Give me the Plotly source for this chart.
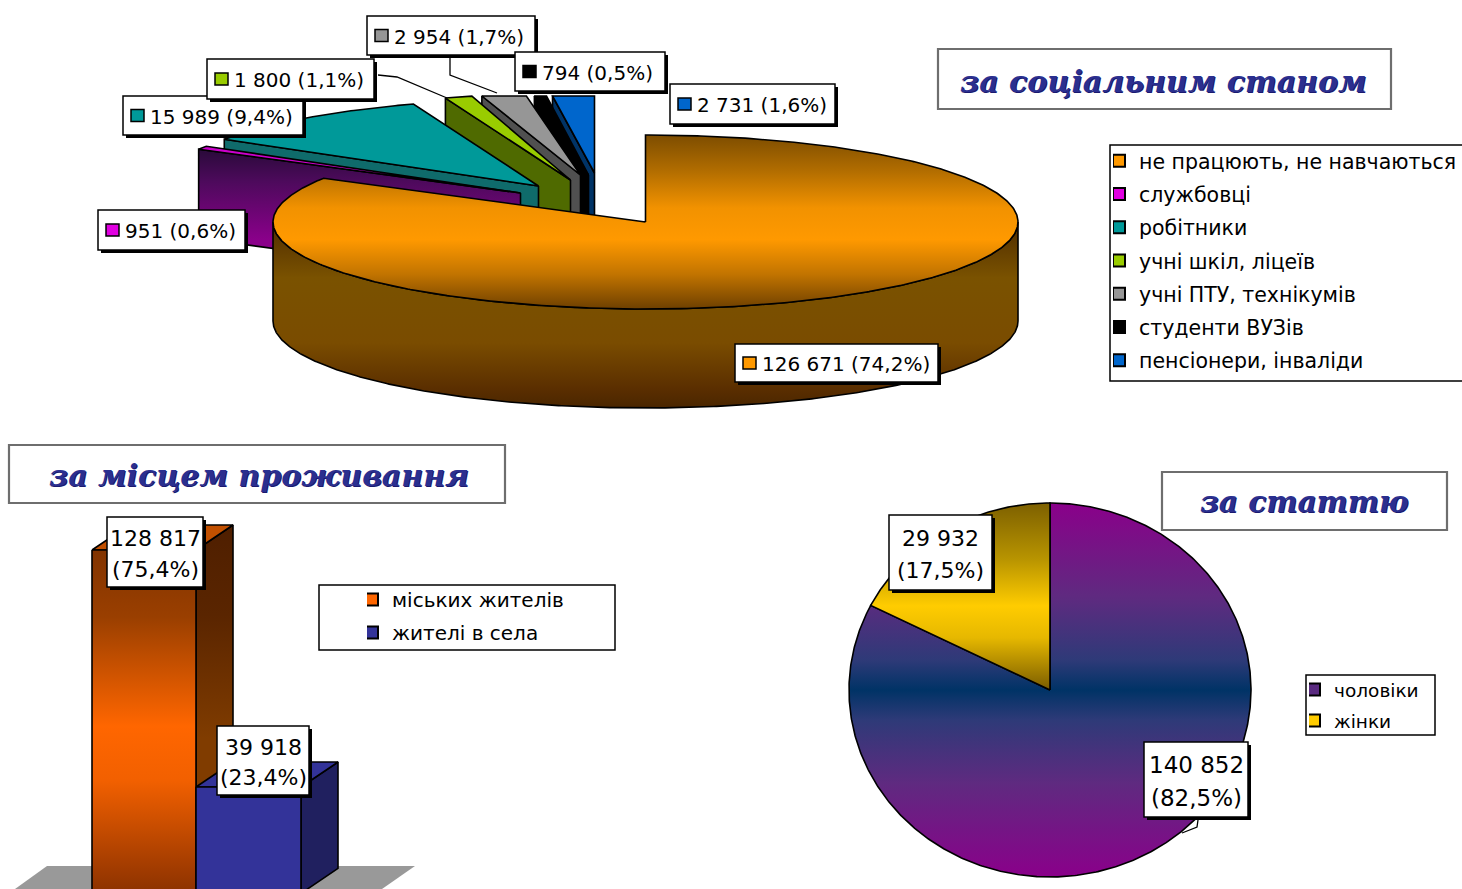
import numpy as np
import plotly.graph_objects as go

# ---------------- data ----------------
social_categories = ["не працюють, не навчаються", "службовці", "робітники", "учні шкіл, ліцеїв",
                     "учні ПТУ, технікумів", "студенти ВУЗів", "пенсіонери, інваліди"]
social_values = [126671, 951, 15989, 1800, 2954, 794, 2731]
social_percent = ["74,2", "0,6", "9,4", "1,1", "1,7", "0,5", "1,6"]

residence_categories = ["міських жителів", "жителі в села"]
residence_values = [128817, 39918]
residence_percent = ["75,4", "23,4"]

gender_categories = ["чоловіки", "жінки"]
gender_values = [140852, 29932]
gender_percent = ["82,5", "17,5"]

titles = ["за соціальним станом", "за місцем проживання", "за статтю"]

# ---------------- styles ----------------
SOCIAL_TOP = ["#ff9900", "#cc00cc", "#009999", "#99cc00", "#969696", "#000000", "#0066cc"]
SOCIAL_CUT = ["#6b4000", "purple", "#0f6b6b", "#4f6a00", "#505050", "#000000", "#003366"]
# slice pull-out, in page pixels
SOCIAL_PULL = [(0, 0), (-125, -29), (-107, -36), (-75, -42), (-65, -47), (-57, -47), (-51, -49)]
CX, CY, RX, RY, DEPTH = 645.5, 222, 372.5, 87, 99
TOP_LIMIT = 96
TITLE_BLUE = "#2b2f8f"
FONT = "DejaVu Sans"
TITLE_FONT = "DejaVu Serif"

fig = go.Figure()


def poly(x, y, color=None, grad=None, lw=1.6, line="#000000"):
    kw = dict(x=x, y=y, mode="lines", fill="toself", line=dict(color=line, width=lw),
              hoverinfo="skip", showlegend=False)
    if grad is not None:
        kw["fillgradient"] = dict(type="vertical", start=grad[0], stop=grad[1], colorscale=grad[2])
    else:
        kw["fillcolor"] = color
    fig.add_trace(go.Scatter(**kw))


def arc(a0, a1, cx, cy, rx, ry):
    t = np.radians(np.linspace(a0, a1, max(int(abs(a1 - a0) * 2), 2) + 1))
    return cx + rx * np.sin(t), cy - ry * np.cos(t)


# ---------- top exploded 3-D pie ----------
total = sum(social_values)
edges = np.concatenate([[0], np.cumsum(social_values)]) / total * 360
for i in range(len(social_values) - 1, 0, -1):
    a0, a1 = edges[i], edges[i + 1]
    ox, oy = SOCIAL_PULL[i]
    ax, ay = CX + ox, CY + oy
    x, y = arc(a0, a1, ax, ay, RX, RY)
    y = np.maximum(y, TOP_LIMIT)
    # cut face at the near edge of the slice
    cutx = [ax, x[0], x[0], ax, ax]
    cuty = [ay, y[0], y[0] + DEPTH * 0.9, ay + DEPTH * 0.9, ay]
    if i == 1:
        poly(cutx, cuty, grad=(150, 240, [[0, "#2a0a3a"], [0.35, "#4d0a5c"], [1, "#8a008a"]]))
    else:
        poly(cutx, cuty, color=SOCIAL_CUT[i])
    poly(np.r_[ax, x, ax], np.r_[ay, y, ay], color=SOCIAL_TOP[i])

# main slice: side wall then top
wx, wy = arc(90, 270, CX, CY, RX, RY)
poly(np.r_[wx, wx[::-1], wx[0]], np.r_[wy, wy[::-1] + DEPTH, wy[0]],
     grad=(222, 408, [[0, "#4f2c00"], [0.3, "#7a5200"], [0.65, "#7a4c00"], [0.9, "#5a2e00"], [1, "#4a2600"]]))
x, y = arc(edges[0], edges[1], CX, CY, RX, RY)
poly(np.r_[CX, x, CX], np.r_[CY, y, CY],
     grad=(135, 309, [[0, "#7d4d00"], [0.2, "#b06c00"], [0.42, "#f29200"], [0.6, "#ff9900"],
                      [0.8, "#c27400"], [1, "#6e4000"]]))

# ---------- bars ----------
BAR_PX = 237 / (residence_values[0] - residence_values[1])
BAR_BASE = 787 + residence_values[1] * BAR_PX
BAR_X = [(92, 196), (196, 301)]
BAR_DX, BAR_DY = 37, 25
BAR_FRONT = [(527, 889, [[0, "#7a3000"], [0.25, "#9a3f00"], [0.55, "#ff6600"], [0.7, "#f26000"], [1, "#8f3300"]]), None]
BAR_SIDE = [(527, 880, [[0, "#4f1f00"], [0.25, "#5a2500"], [0.6, "#803c00"], [1, "#803c00"]]), None]
BAR_CAP = ["#c25000", "#333399"]

shapes = []
shapes.append(dict(type="path", path="M 15 889 L 47 866 L 415 866 L 382 889 Z", fillcolor="#999999",
                   line=dict(width=0), layer="below", xref="x", yref="y"))
for i, v in enumerate(residence_values):
    x0, x1 = BAR_X[i]
    top = BAR_BASE - v * BAR_PX
    if BAR_SIDE[i]:
        poly([x1, x1 + BAR_DX, x1 + BAR_DX, x1, x1],
             [top, top - BAR_DY, BAR_BASE - BAR_DY, BAR_BASE, top], grad=BAR_SIDE[i])
    else:
        poly([x1, x1 + BAR_DX, x1 + BAR_DX, x1, x1],
             [top, top - BAR_DY, BAR_BASE - BAR_DY, BAR_BASE, top], color="#20205f")
    poly([x0, x0 + BAR_DX, x1 + BAR_DX, x1, x0], [top, top - BAR_DY, top - BAR_DY, top, top], color=BAR_CAP[i])
    if BAR_FRONT[i]:
        poly([x0, x1, x1, x0, x0], [top, top, BAR_BASE, BAR_BASE, top], grad=BAR_FRONT[i])
    else:
        poly([x0, x1, x1, x0, x0], [top, top, BAR_BASE, BAR_BASE, top], color="#333399")

# ---------- gender pie ----------
PX, PY, PRX, PRY = 1050, 690, 201, 187
gtotal = sum(gender_values)
gedges = np.concatenate([[0], np.cumsum(gender_values)]) / gtotal * 360
x, y = arc(gedges[0], gedges[1], PX, PY, PRX, PRY)
poly(np.r_[PX, x, PX], np.r_[PY, y, PY],
     grad=(503, 877, [[0, "#8a008a"], [0.25, "#5f2a80"], [0.42, "#2e3a78"], [0.5, "#003366"],
                      [0.58, "#2e3a78"], [0.75, "#5f2a80"], [1, "#8a008a"]]))
x, y = arc(gedges[1], gedges[2], PX, PY, PRX, PRY)
poly(np.r_[PX, x, PX], np.r_[PY, y, PY],
     grad=(503, 690, [[0, "#7d6000"], [0.3, "#b89400"], [0.55, "#ffcc00"], [0.72, "#e6b800"], [1, "#7a5c00"]]))

# ---------- legends (native) ----------
def legend_entries(cats, colors, legend):
    for c, col in zip(cats, colors):
        fig.add_trace(go.Scatter(x=[None], y=[None], mode="markers", name=c, legend=legend, legendgroup=legend + c,
                                 marker=dict(symbol="square", size=12, color=col, line=dict(color="#000000", width=2))))


legend_entries(social_categories, ["#ff9900", "#e000e0", "#009999", "#99cc00", "#969696", "#000000", "#0066cc"], "legend")
legend_entries(residence_categories, ["#ff6600", "#333399"], "legend2")
legend_entries(gender_categories, ["#5a2a80", "#ffcc00"], "legend3")

W, H = 1462, 889


def legend_layout(left, top, size, gap, entry, indent):
    return dict(x=left / W, y=1 - top / H, xanchor="left", yanchor="top", bgcolor="rgba(0,0,0,0)", borderwidth=0,
                font=dict(family=FONT, size=size, color="#000000"), tracegroupgap=gap, indentation=indent,
                entrywidth=entry, entrywidthmode="pixels", itemclick=False, itemdoubleclick=False)


def rect(x0, y0, x1, y1, fill="#ffffff", line="#000000", lw=1.5):
    shapes.append(dict(type="rect", xref="x", yref="y", x0=x0, y0=y0, x1=x1, y1=y1, fillcolor=fill,
                       line=dict(color=line, width=lw), layer="above"))


annotations = []


def text(x, y, s, size=20, family=FONT, color="#000000", anchor="left", **font):
    annotations.append(dict(x=x, y=y, xref="x", yref="y", text=s, showarrow=False, xanchor=anchor, yanchor="middle",
                            font=dict(family=family, size=size, color=color, **font)))


def leader(points):
    path = "M " + " L ".join(f"{a} {b}" for a, b in points)
    shapes.append(dict(type="path", path=path, xref="x", yref="y", line=dict(color="#000000", width=1.3), layer="above"))


def num(v):
    return f"{v:,}".replace(",", " ")


# title frames
TITLE_BOXES = [(938, 49, 1391, 109, 1163, 81, 30), (9, 445, 505, 503, 259, 475, 30), (1162, 472, 1447, 530, 1304, 501, 29.5)]
for s, (x0, y0, x1, y1, tx, ty, sz) in zip(titles, TITLE_BOXES):
    rect(x0, y0, x1, y1, line="#6e6e6e", lw=2.2)
    text(tx, ty, f"<b><i>{s}</i></b>", size=sz, family=TITLE_FONT, color=TITLE_BLUE, anchor="center",
         shadow="1px 1px 0px #1a1a70")

# legend frames
rect(1110, 145, 1470, 381)
rect(319, 585, 615, 650)
rect(1306, 675, 1435, 735)

# leaders
leader([(378, 75), (397, 77), (447, 98)])
leader([(450, 58), (450, 75), (497, 93)])
leader([(1198, 820), (1197, 827), (1182, 833)])


def social_label(i, x0, y0, x1, y1):
    rect(x0 + 3, y0 + 3, x1 + 3, y1 + 3, fill="#000000", lw=0)
    rect(x0, y0, x1, y1)
    rect(x0 + 8, (y0 + y1) / 2 - 6, x0 + 21, (y0 + y1) / 2 + 6,
         fill=["#ff9900", "#e000e0", "#009999", "#99cc00", "#969696", "#000000", "#0066cc"][i], lw=1.5)
    text(x0 + 25, (y0 + y1) / 2 + 1, f"{num(social_values[i])} ({social_percent[i]}%)", size=20)


social_label(1, 98, 210, 245, 250)
social_label(2, 123, 96, 303, 135)
social_label(3, 207, 59, 374, 99)
social_label(4, 367, 16, 535, 55)
social_label(5, 515, 52, 665, 91)
social_label(6, 670, 84, 835, 124)
social_label(0, 735, 344, 938, 382)


def two_line(v, p, x0, y0, x1, y1, size):
    rect(x0 + 3, y0 + 3, x1 + 3, y1 + 3, fill="#000000", lw=0)
    rect(x0, y0, x1, y1)
    mid = (x0 + x1) / 2
    text(mid, y0 + (y1 - y0) * 0.31, num(v), size=size, anchor="center")
    text(mid, y0 + (y1 - y0) * 0.745, f"({p}%)", size=size, anchor="center")


two_line(residence_values[0], residence_percent[0], 107, 517, 203, 587, 22)
two_line(residence_values[1], residence_percent[1], 217, 726, 309, 795, 22)
two_line(gender_values[1], gender_percent[1], 889, 515, 992, 590, 22)
two_line(gender_values[0], gender_percent[0], 1144, 742, 1248, 817, 23)

fig.update_layout(
    width=W, height=H, margin=dict(l=0, r=0, t=0, b=0, autoexpand=False),
    paper_bgcolor="#ffffff", plot_bgcolor="#ffffff",
    xaxis=dict(range=[0, W], visible=False, fixedrange=True),
    yaxis=dict(range=[H, 0], visible=False, fixedrange=True),
    shapes=shapes, annotations=annotations, showlegend=True,
    legend=legend_layout(1113, 141, 20.5, 3.6, 312, -14),
    legend2=legend_layout(367, 580, 20, 4, 230, -15),
    legend3=legend_layout(1309, 671, 18.5, 4, 90, -15),
)

fig.write_html("out.html", config=dict(displayModeBar=False),
               post_script="document.body.style.margin='0';document.body.style.overflow='hidden';")
